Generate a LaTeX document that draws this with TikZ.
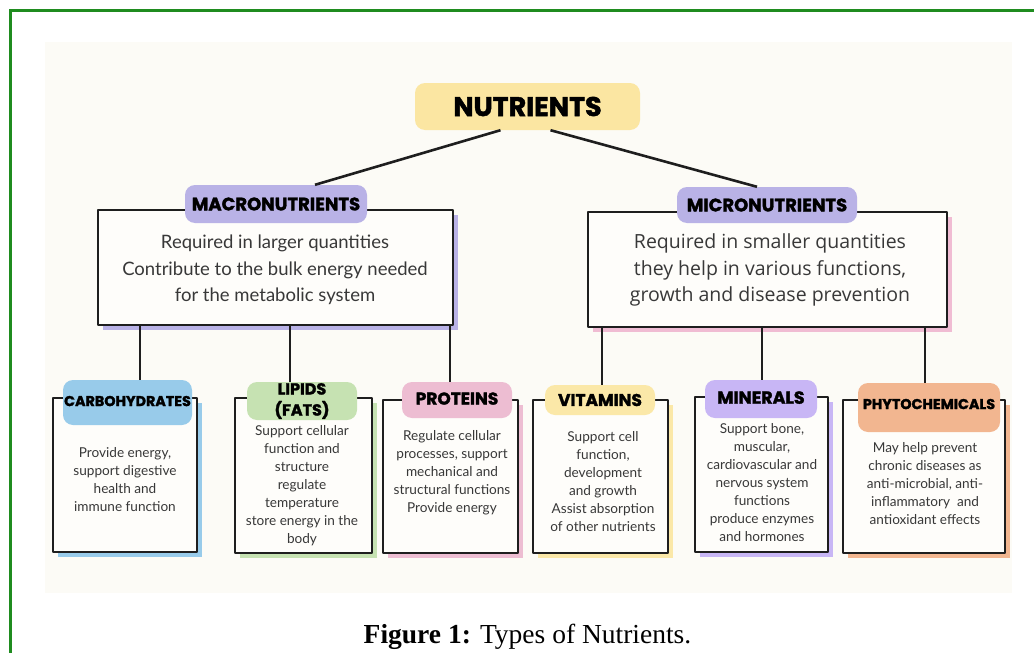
\documentclass[tikz,border=0pt]{standalone}
\usepackage{fontspec}
\setmainfont{Liberation Serif}
\newfontfamily\headfont{Poppins}[BoldFeatures={FakeBold=1.8}]
\newfontfamily\bodyfont{Lato}
\newfontfamily\microfont{Open Sans}
\usetikzlibrary{shadows}

\definecolor{frameGreen}{HTML}{1F8C1F}
\definecolor{paper}{HTML}{FCFBF6}
\definecolor{boxFill}{HTML}{FEFDFA}
\definecolor{ink}{HTML}{1E1E1E}
\definecolor{bodyInk}{HTML}{383838}
\definecolor{nutYellow}{HTML}{FBE6A2}
\definecolor{macroPurple}{HTML}{B9B2E6}
\definecolor{microPink}{HTML}{F0BCD3}
\definecolor{carbBlue}{HTML}{98CBEA}
\definecolor{lipGreen}{HTML}{C6E2B2}
\definecolor{protPink}{HTML}{EDBDD2}
\definecolor{vitYellow}{HTML}{FBE8A8}
\definecolor{minPurple}{HTML}{C8B6F5}
\definecolor{phyOrange}{HTML}{F2B690}

\tikzset{
  blob/.style={rounded corners=10pt, inner sep=0pt, text=black,
    font=\headfont\bfseries, align=center},
  panel/.style={draw=ink, line width=1.8pt, fill=boxFill, inner sep=0pt,
    line join=round},
  tint/.style={drop shadow={shadow xshift=5pt, shadow yshift=-5pt,
    fill=#1, opacity=1}},
  conn/.style={draw=ink, line width=2.6pt},
  body/.style={align=center, text=bodyInk, inner sep=0pt},
  small/.style={body, font=\bodyfont\fontsize{13.6}{18}\selectfont},
}

\begin{document}
\begin{tikzpicture}[x=1pt,y=-1pt]
\useasboundingbox (0,0) rectangle (1034,653);
\fill[white] (0,0) rectangle (1034,653);

% page frame and figure area
\draw[frameGreen, line width=3pt] (10,653) -- (10,10) -- (1034,10);
\fill[paper] (45,42) rectangle (1012,593);

% top level
\node[blob, fill=nutYellow, minimum width=225pt, minimum height=47pt,
  font=\headfont\bfseries\fontsize{27}{30}\selectfont] (nut) at (527.5,106.5) {NUTRIENTS};

% second level panels
\node[panel, tint=macroPurple, minimum width=355pt, minimum height=115pt] (macroBox) at (275.5,267.5) {};
\node[panel, tint=microPink, minimum width=359pt, minimum height=115pt] (microBox) at (767.5,269.5) {};

\node[body, font=\bodyfont\fontsize{18.5}{26.5}\selectfont] (macroTxt) at (275,270)
  {Required in larger quantities\\Contribute to the bulk energy needed\\for the metabolic system};
\node[body, font=\microfont\fontsize{19.5}{26.5}\selectfont] (microTxt) at (770,270)
  {Required in smaller quantities\\they help in various functions,\\growth and disease prevention};

\node[blob, fill=macroPurple, minimum width=182pt, minimum height=38pt,
  font=\headfont\bfseries\fontsize{18}{20}\selectfont] (macroLab) at (276,204) {MACRONUTRIENTS};
\node[blob, fill=macroPurple, minimum width=180pt, minimum height=36pt,
  font=\headfont\bfseries\fontsize{18}{20}\selectfont] (microLab) at (767,205) {MICRONUTRIENTS};

\draw[conn] ([xshift=-27pt]nut.south) -- ([xshift=39pt]macroLab.north);
\draw[conn] ([xshift=23pt]nut.south) -- ([xshift=-10pt]microLab.north);

% third level panels
\node[panel, tint=carbBlue,   minimum width=144pt, minimum height=154pt] (carbBox) at (125,475) {};
\node[panel, tint=lipGreen,   minimum width=137pt, minimum height=155pt] (lipBox)  at (303.5,475.5) {};
\node[panel, tint=protPink,   minimum width=135pt, minimum height=153pt] (protBox) at (450.5,476.5) {};
\node[panel, tint=vitYellow,  minimum width=135pt, minimum height=153pt] (vitBox)  at (600.5,476.5) {};
\node[panel, tint=minPurple,  minimum width=133pt, minimum height=155pt] (minBox)  at (761.5,474.5) {};
\node[panel, tint=phyOrange,  minimum width=162pt, minimum height=153pt] (phyBox)  at (924,476.5) {};

\node[blob, fill=carbBlue, minimum width=129pt, minimum height=45pt,
  font=\headfont\bfseries\fontsize{14.3}{16}\selectfont] (carbLab) at (127.5,402.5) {\raisebox{3pt}{CARBOHYDRATES}};
\node[blob, fill=lipGreen, minimum width=110pt, minimum height=38pt,
  font=\headfont\bfseries\fontsize{16}{21}\selectfont] (lipLab) at (302,401) {LIPIDS\\(FATS)};
\node[blob, fill=protPink, minimum width=110pt, minimum height=36pt,
  font=\headfont\bfseries\fontsize{17}{19}\selectfont] (protLab) at (457,400) {\raisebox{3pt}{PROTEINS}};
\node[blob, fill=vitYellow, minimum width=110pt, minimum height=30pt,
  font=\headfont\bfseries\fontsize{17}{19}\selectfont] (vitLab) at (600,400) {VITAMINS};
\node[blob, fill=minPurple, minimum width=112pt, minimum height=38pt,
  font=\headfont\bfseries\fontsize{17.5}{19}\selectfont] (minLab) at (761,399) {\raisebox{3pt}{MINERALS}};
\node[blob, fill=phyOrange, minimum width=142pt, minimum height=49pt,
  font=\headfont\bfseries\fontsize{14.3}{16}\selectfont] (phyLab) at (929,407.5) {\raisebox{7pt}{PHYTOCHEMICALS}};

\node[small] (carbTxt) at (125,480) {Provide energy,\\support digestive\\health and\\immune function};
\node[small] (lipTxt)  at (302,486) {Support cellular\\function and\\structure\\regulate\\temperature\\store energy in the\\body};
\node[small] (protTxt) at (452,473) {Regulate cellular\\processes, support\\mechanical and\\structural functions\\Provide energy};
\node[small] (vitTxt)  at (603,482) {Support cell\\function,\\development\\and growth\\Assist absorption\\of other nutrients};
\node[small] (minTxt)  at (762,483) {Support bone,\\muscular,\\cardiovascular and\\nervous system\\functions\\produce enzymes\\and hormones};
\node[small] (phyTxt)  at (925,484) {May help prevent\\chronic diseases as\\anti-microbial, anti-\\inflammatory\ \ and\\antioxidant effects};

% branch connectors
\coordinate (xa) at (140,0);
\coordinate (xb) at (290,0);
\coordinate (xc) at (450,0);
\coordinate (xd) at (602,0);
\coordinate (xe) at (762,0);
\coordinate (xf) at (925,0);
\draw[conn] (macroBox.south -| xa) -- (carbLab.north -| xa);
\draw[conn] (macroBox.south -| xb) -- (lipLab.north -| xb);
\draw[conn] (macroBox.south -| xc) -- (protLab.north -| xc);
\draw[conn] (microBox.south -| xd) -- (vitLab.north -| xd);
\draw[conn] (microBox.south -| xe) -- (minLab.north -| xe);
\draw[conn] (microBox.south -| xf) -- (phyLab.north -| xf);

% caption
\node[anchor=base, inner sep=0pt, font=\fontsize{27.5}{30}\selectfont] (caption) at (527.5,643)
  {\textbf{Figure 1:} Types of Nutrients.};
\end{tikzpicture}
\end{document}
